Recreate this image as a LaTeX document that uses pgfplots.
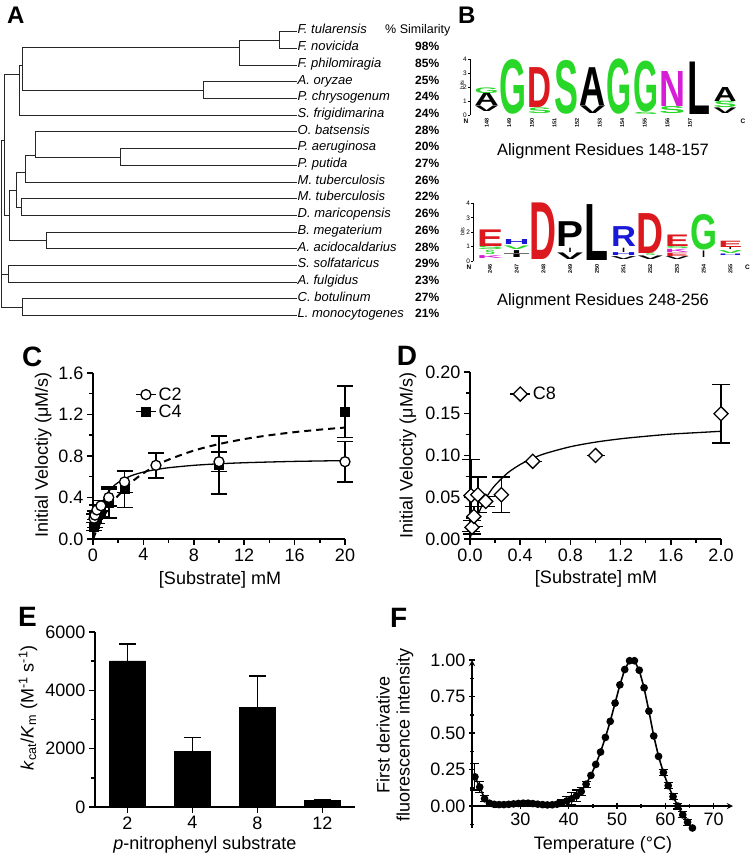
\documentclass[border=0pt]{standalone}
\usepackage{fontspec}
\setmainfont{Liberation Sans}
\usepackage{graphicx}
\usepackage{pgfplots}
\pgfplotsset{compat=1.18}

\definecolor{lgreen}{RGB}{40,215,40}
\definecolor{lred}{RGB}{220,25,30}
\definecolor{lmag}{RGB}{215,30,215}
\definecolor{lblue}{RGB}{25,25,215}

\newcommand{\fs}[2]{\fontsize{#1}{#2}\selectfont}
% logo letter: x, bottom (bits), height, colour, width, letter
\newcommand{\LL}[6]{\node[anchor=south,inner sep=0pt,text=#4] at (axis cs:#1,#2) {\resizebox{#5}{#3}{\bfseries #6}};}

\pgfplotsset{
  /pgf/number format/assume math mode=true,
  gp/.style={scale only axis, clip=false, anchor=south west,
    axis lines=left, axis line style={line width=1.7pt,-},
    tick style={line width=1.5pt,black}, tick align=outside,
    major tick length=6pt, minor tick length=4pt,
    minor x tick num=1, minor y tick num=1,
    tick label style={font=\fs{18}{20}},
    legend style={draw=none, fill=none, font=\fs{18}{20}, legend cell align=left, row sep=-1pt},
    legend image code/.code={\draw[mark repeat=2,mark phase=2,##1] plot coordinates {(0pt,0pt) (10pt,0pt) (20pt,0pt)};},
  },
  xl/.style 2 args={xlabel style={at={(axis description cs:#1,#2)}, anchor=center, font=\fs{18}{20}}},
  yl/.style 2 args={ylabel style={at={(axis description cs:#1,#2)}, rotate=0, anchor=center, font=\fs{18}{20}, align=center}},
  logo/.style={scale only axis, clip=false, anchor=south west,
    axis lines=left, x axis line style={draw=none}, y axis line style={line width=0.7pt,-},
    xtick style={draw=none}, ytick style={line width=0.6pt,black}, tick align=outside,
    major tick length=2pt, ymin=0, ymax=4, ytick={0,1,2,3,4},
    yticklabel style={font=\fs{6.5}{7}, inner sep=1pt},
    xticklabel style={font=\fs{5.5}{6}\bfseries, rotate=90, anchor=east, inner sep=1pt},
    ylabel={bits}, every axis y label/.style={at={(axis description cs:-0.03,0.54)}, rotate=90, anchor=center, font=\fs{5.5}{6}},
  },
  errs/.style 2 args={error bars/.cd, y dir=both, y explicit,
    error mark options={rotate=90, line width=#2, mark size=#1},
    error bar style={line width=#2}},
}

\begin{document}
\begin{tikzpicture}
\useasboundingbox (0,0) rectangle (750pt,861pt);

% ---------------- A: tree ----------------
\begin{axis}[at={(0pt,531pt)}, anchor=south west, scale only axis, width=460pt, height=330pt,
  xmin=0, xmax=460, ymin=0, ymax=330, y dir=reverse, hide axis, clip=false]
\addplot[black!85, line width=0.9pt, unbounded coords=jump] coordinates {
 (297,31.7) (279.3,31.7) (279.3,48.4) (297,48.4) (nan,nan)
 (279.3,40) (239.3,40) (239.3,65.1) (297,65.1) (nan,nan)
 (297,81.8) (203.3,81.8) (203.3,98.5) (297,98.5) (nan,nan)
 (239.3,47.7) (22.3,47.7) (22.3,90) (203.3,90) (nan,nan)
 (22.3,65) (19,65) (19,115.2) (297,115.2) (nan,nan)
 (297,148.6) (120.7,148.6) (120.7,165.3) (297,165.3) (nan,nan)
 (297,131.9) (35,131.9) (35,157) (120.7,157) (nan,nan)
 (35,155) (25.7,155) (25.7,182) (297,182) (nan,nan)
 (297,198.7) (21,198.7) (21,215.4) (297,215.4) (nan,nan)
 (25.7,172.7) (16.7,172.7) (16.7,207) (21,207) (nan,nan)
 (297,232.1) (46,232.1) (46,248.8) (297,248.8) (nan,nan)
 (16.7,190) (9.3,190) (9.3,240.5) (46,240.5) (nan,nan)
 (19,74) (4,74) (4,215) (9.3,215) (nan,nan)
 (297,265.5) (8,265.5) (8,282.2) (297,282.2) (nan,nan)
 (297,298.9) (22.7,298.9) (22.7,315.6) (297,315.6) (nan,nan)
 (4,140) (1,140) (1,307) (22.7,307) (nan,nan)
 (1,274) (8,274)
};
\begin{scope}[every node/.style={anchor=base west, inner sep=0pt, font=\fs{13}{15}\itshape}]
\node at (axis cs:297.5,34.0) {F. tularensis};
\node at (axis cs:297.5,50.7) {F. novicida};
\node at (axis cs:297.5,67.4) {F. philomiragia};
\node at (axis cs:297.5,84.1) {A. oryzae};
\node at (axis cs:297.5,100.8) {P. chrysogenum};
\node at (axis cs:297.5,117.5) {S. frigidimarina};
\node at (axis cs:297.5,134.2) {O. batsensis};
\node at (axis cs:297.5,150.9) {P. aeruginosa};
\node at (axis cs:297.5,167.6) {P. putida};
\node at (axis cs:297.5,184.3) {M. tuberculosis};
\node at (axis cs:297.5,201.0) {M. tuberculosis};
\node at (axis cs:297.5,217.7) {D. maricopensis};
\node at (axis cs:297.5,234.4) {B. megaterium};
\node at (axis cs:297.5,251.1) {A. acidocaldarius};
\node at (axis cs:297.5,267.8) {S. solfataricus};
\node at (axis cs:297.5,284.5) {A. fulgidus};
\node at (axis cs:297.5,301.2) {C. botulinum};
\node at (axis cs:297.5,317.9) {L. monocytogenes};
\end{scope}
\node[anchor=base west, inner sep=0pt, font=\fs{12.5}{14}] at (axis cs:385,34.0) {\% Similarity};
\begin{scope}[every node/.style={anchor=base west, inner sep=0pt, font=\fs{12}{14}\bfseries}]
\node at (axis cs:415,50.7) {98\%};
\node at (axis cs:415,67.4) {85\%};
\node at (axis cs:415,84.1) {25\%};
\node at (axis cs:415,100.8) {24\%};
\node at (axis cs:415,117.5) {24\%};
\node at (axis cs:415,134.2) {28\%};
\node at (axis cs:415,150.9) {20\%};
\node at (axis cs:415,167.6) {27\%};
\node at (axis cs:415,184.3) {26\%};
\node at (axis cs:415,201.0) {22\%};
\node at (axis cs:415,217.7) {26\%};
\node at (axis cs:415,234.4) {26\%};
\node at (axis cs:415,251.1) {28\%};
\node at (axis cs:415,267.8) {29\%};
\node at (axis cs:415,284.5) {23\%};
\node at (axis cs:415,301.2) {27\%};
\node at (axis cs:415,317.9) {21\%};
\end{scope}
\end{axis}

% ---------------- B: logos ----------------
\begin{axis}[logo, at={(470pt,746pt)}, width=271pt, height=56pt, xmin=147.37, xmax=157.6,
  xtick={148,148.853,149.706,150.559,151.412,152.265,153.118,153.971,154.824,155.677},
  xticklabels={148,149,150,151,152,153,154,155,156,157}]
\LL{148}{0.25}{5.6pt}{black}{24pt}{V}
\LL{148}{0.65}{12.6pt}{black}{24pt}{A}
\LL{148}{1.55}{5.6pt}{lgreen}{24pt}{G}
\LL{149}{0.05}{53.9pt}{lgreen}{27pt}{G}
\LL{150}{0.1}{5.6pt}{lgreen}{24pt}{S}
\LL{150}{0.5}{39.9pt}{lred}{24pt}{D}
\LL{151}{0.06}{53.1pt}{lgreen}{24pt}{S}
\LL{152}{0.1}{7.7pt}{black}{26pt}{V}
\LL{152}{0.65}{37.8pt}{black}{26pt}{A}
\LL{153}{0.05}{54.6pt}{lgreen}{25pt}{G}
\LL{154}{0.05}{2.1pt}{lgreen}{25pt}{S}
\LL{154}{0.2}{50.4pt}{lgreen}{25pt}{G}
\LL{155}{0.1}{7pt}{lgreen}{26pt}{S}
\LL{155}{0.6}{35pt}{lmag}{26pt}{N}
\LL{156}{0.05}{52.5pt}{black}{23pt}{L}
\LL{157}{0.1}{5.6pt}{black}{23pt}{V}
\LL{157}{0.5}{6.3pt}{lgreen}{23pt}{S}
\LL{157}{0.95}{14pt}{black}{23pt}{A}
\node[font=\fs{6.5}{7}\bfseries] at (axis cs:147.22,-0.43) {N};
\node[font=\fs{6.5}{7}\bfseries] at (axis cs:157.67,-0.43) {C};
\end{axis}

\begin{axis}[logo, at={(473.3pt,600pt)}, width=270.5pt, height=57.6pt, xmin=245.375, xmax=255.5,
  xtick={246,...,255}, every axis y label/.style={at={(axis description cs:-0.04,0.51)}, rotate=90, anchor=center, font=\fs{5.5}{6}}]
\LL{246}{0.15}{2.9pt}{lmag}{26pt}{K}
\LL{246}{0.4}{4.3pt}{lgreen}{10pt}{S}
\LL{246}{0.75}{3.6pt}{lgreen}{26pt}{S}
\LL{246}{1.0}{16.6pt}{lred}{26pt}{E}
\LL{247}{0.2}{3.6pt}{black}{26pt}{T}
\LL{247}{0.5}{2.9pt}{black}{10pt}{I}
\LL{247}{0.75}{3.6pt}{lgreen}{26pt}{V}
\LL{247}{1.1}{5pt}{lblue}{26pt}{H}
\LL{248}{0.07}{56.6pt}{lred}{27pt}{D}
\LL{249}{0.07}{6.6pt}{black}{26pt}{V}
\LL{249}{0.6}{4.3pt}{black}{3pt}{I}
\LL{249}{1.0}{24.8pt}{black}{27pt}{P}
\LL{250}{0.0}{55.9pt}{black}{24pt}{L}
\LL{251}{0.1}{2.9pt}{black}{26pt}{V}
\LL{251}{0.35}{2.9pt}{lblue}{26pt}{H}
\LL{251}{0.6}{4.3pt}{black}{3pt}{I}
\LL{251}{1.0}{19.9pt}{lblue}{25pt}{R}
\LL{252}{0.1}{3.6pt}{black}{26pt}{V}
\LL{252}{0.35}{2.6pt}{lgreen}{10pt}{S}
\LL{252}{0.53}{39.9pt}{lred}{27pt}{D}
\LL{253}{0.1}{2.9pt}{black}{24pt}{V}
\LL{253}{0.3}{3.3pt}{lred}{24pt}{E}
\LL{253}{0.58}{3.2pt}{lmag}{24pt}{K}
\LL{253}{0.83}{2.4pt}{lgreen}{24pt}{S}
\LL{253}{1.0}{11.5pt}{lred}{24pt}{E}
\LL{254}{0.2}{6.5pt}{black}{3pt}{I}
\LL{254}{0.76}{35pt}{lgreen}{27pt}{G}
\LL{255}{0.35}{1.5pt}{lblue}{24pt}{H}
\LL{255}{0.5}{2.9pt}{lgreen}{24pt}{V}
\LL{255}{0.75}{2.2pt}{black}{3pt}{I}
\LL{255}{0.9}{6.3pt}{lred}{24pt}{E}
\node[font=\fs{6.5}{7}\bfseries] at (axis cs:245.21,-0.44) {N};
\node[font=\fs{6.5}{7}\bfseries] at (axis cs:255.64,-0.44) {C};
\end{axis}

% ---------------- C ----------------
\begin{axis}[gp, at={(93pt,322pt)}, width=252pt, height=166pt,
  xmin=0, xmax=20, ymin=0, ymax=1.6,
  xtick={0,4,8,12,16,20}, ytick={0,0.4,0.8,1.2,1.6},
  yticklabel style={/pgf/number format/.cd, fixed, fixed zerofill, precision=1},
  xlabel={[Substrate] mM}, ylabel={Initial Veloctiy (μM/s)},
  xl={0.504}{-0.247}, yl={-0.198}{0.506},
  legend style={at={(axis cs:3.1,1.5)}, anchor=north west}]
\addlegendimage{black, line width=1.3pt, mark=*, mark size=5pt, mark options={fill=white}}
\addlegendentry{C2}
\addlegendimage{black, line width=1.3pt, mark=square*, mark size=4.5pt}
\addlegendentry{C4}
% fitted curves
\addplot[forget plot, black, line width=1.3pt, smooth] coordinates {
 (0,0) (0.1,0.079) (0.25,0.172) (0.5,0.282) (1,0.416) (1.5,0.494) (2,0.545) (3,0.608)
 (4,0.645) (5,0.669) (6,0.687) (8,0.710) (10,0.725) (12,0.735) (14,0.742) (16,0.748) (18,0.752) (20,0.756)};
\addplot[forget plot, black, line width=2pt, dash pattern=on 7pt off 5pt, smooth] coordinates {
 (0,0) (0.25,0.073) (0.5,0.138) (1,0.25) (1.5,0.342) (2,0.419) (3,0.542) (4,0.634) (5,0.707)
 (6,0.765) (8,0.852) (10,0.915) (12,0.963) (14,1.0) (16,1.030) (18,1.054) (20,1.074)};
% C4 data
\addplot[forget plot, black, only marks, mark=square*, mark size=4.5pt, errs={8pt}{1.5pt}] coordinates {
 (0.08,0.12) +- (0,0.04) (0.16,0.15) +- (0,0.04) (0.31,0.20) +- (0,0.05) (0.63,0.26) +- (0,0.05)
 (1.25,0.35) +- (0,0.15) (2.5,0.48) +- (0,0.175) (10,0.715) +- (0,0.28) (20,1.227) +- (0,0.25)};
% C2 data
\addplot[forget plot, black, only marks, mark=*, mark size=5pt, mark options={fill=white, line width=1.3pt}, errs={8pt}{1.5pt}] coordinates {
 (0.08,0.20) +- (0,0.04) (0.16,0.23) +- (0,0.04) (0.31,0.28) +- (0,0.05) (0.63,0.32) +- (0,0.05)
 (1.25,0.40) +- (0,0.08) (2.5,0.55) +- (0,0.10) (5,0.71) +- (0,0.12) (10,0.745) +- (0,0.095) (20,0.745) +- (0,0.195)};
\end{axis}

% ---------------- D ----------------
\begin{axis}[gp, at={(470pt,322pt)}, width=251pt, height=167pt,
  xmin=0, xmax=2, ymin=0, ymax=0.2,
  xtick={0,0.4,0.8,1.2,1.6,2.0}, ytick={0,0.05,0.10,0.15,0.20},
  xticklabel style={/pgf/number format/.cd, fixed, fixed zerofill, precision=1},
  yticklabel style={/pgf/number format/.cd, fixed, fixed zerofill, precision=2},
  xlabel={[Substrate] mM}, ylabel={Initial Veloctiy (μM/s)},
  xl={0.502}{-0.24}, yl={-0.247}{0.5},
  legend style={at={(axis cs:0.29,0.187)}, anchor=north west}]
\addlegendimage{black, line width=1.3pt, mark=square*, mark size=5pt, mark options={rotate=45, fill=white}}
\addlegendentry{C8}
\addplot[forget plot, black, line width=1.3pt, smooth] coordinates {
 (0,0) (0.02,0.0107) (0.05,0.0242) (0.1,0.0414) (0.15,0.0544) (0.2,0.0644) (0.3,0.0791)
 (0.4,0.0892) (0.5,0.0967) (0.6,0.1024) (0.8,0.1105) (1.0,0.116) (1.2,0.120) (1.4,0.123)
 (1.6,0.1256) (1.8,0.1273) (2.0,0.129)};
\addplot[forget plot, black, only marks, mark=square*, mark size=5pt, mark options={rotate=45, fill=white, line width=1.3pt}, errs={9pt}{1.5pt}] coordinates {
 (0.008,0.052) +- (0,0.043) (0.016,0.014) +- (0,0.008) (0.031,0.027) +- (0,0.012)
 (0.0625,0.053) +- (0,0.021) (0.125,0.045) +- (0,0.006) (0.25,0.053) +- (0,0.021)
 (0.5,0.093) +- (0,0) (1.0,0.100) +- (0,0) (2.0,0.150) +- (0,0.035)};
\end{axis}

% ---------------- E ----------------
\begin{axis}[gp, at={(95pt,54pt)}, width=260pt, height=175pt, ybar, bar width=36pt,
  xmin=-0.5, xmax=3.5, ymin=0, ymax=6000,
  xtick={0,1,2,3}, xticklabels={2,4,8,12}, minor x tick num=0,
  ytick={0,2000,4000,6000}, scaled y ticks=false,
  yticklabel style={/pgf/number format/1000 sep={}},
  xlabel={\textit{p}-nitrophenyl substrate},
  ylabel={\textit{k}\textsubscript{cat}/\textit{K}\textsubscript{m} (M\textsuperscript{-1} s\textsuperscript{-1})},
  xl={0.423}{-0.217}, yl={-0.258}{0.566}]
\addplot[fill=black, draw=black, error bars/.cd, y dir=plus, y explicit,
  error mark options={rotate=90, line width=1.8pt, mark size=8.5pt}, error bar style={line width=1.8pt}]
 coordinates {(0,5010) +- (0,580) (1,1920) +- (0,460) (2,3420) +- (0,1080) (3,220) +- (0,40)};
\end{axis}

% ---------------- F ----------------
\begin{axis}[gp, at={(472pt,33pt)}, width=261pt, height=168pt,
  xmin=20, xmax=74, ymin=-0.15, ymax=1.0,
  axis x line=middle, axis y line=left,
  hide obscured x ticks=false, hide obscured y ticks=false,
  xtick={30,40,50,60,70}, minor xtick={25,35,45,55,65},
  ytick={0,0.25,0.5,0.75,1}, minor ytick={-0.125,0.125,0.375,0.625,0.875},
  yticklabel style={/pgf/number format/.cd, fixed, fixed zerofill, precision=2},
  xlabel={Temperature (°C)}, ylabel={First derivative\\fluorescence intensity},
  xl={0.502}{-0.101}, yl={-0.295}{0.554}]
\addplot[black, line width=1.6pt, mark=*, mark size=3pt] coordinates {
 (20.6,0.20) (21.6,0.13) (22.6,0.05) (23.6,0.02) (24.6,0.012) (25.6,0.010) (26.6,0.010)
 (27.6,0.012) (28.6,0.015) (29.6,0.018) (30.6,0.020) (31.6,0.020) (32.6,0.017) (33.6,0.013)
 (34.6,0.010) (35.6,0.008) (36.6,0.009) (37.6,0.013) (38.6,0.022) (39.6,0.035) (40.6,0.050)
 (41.6,0.070) (42.6,0.100) (43.6,0.150) (44.6,0.210) (45.6,0.285) (46.6,0.370) (47.6,0.470)
 (48.6,0.580) (49.6,0.705) (50.6,0.830) (51.6,0.935) (52.6,0.995) (53.6,0.995) (54.6,0.930)
 (55.6,0.810) (56.6,0.650) (57.6,0.480) (58.6,0.340) (59.6,0.230) (60.6,0.140) (61.6,0.065)
 (62.6,0.000) (63.6,-0.060) (64.6,-0.110) (65.6,-0.150)};
\addplot[black, only marks, mark=*, mark size=3pt, errs={4.5pt}{1.1pt}] coordinates {
 (20.6,0.20) +- (0,0.09) (21.6,0.13) +- (0,0.04) (22.6,0.05) +- (0,0.02)
 (38.6,0.022) +- (0,0.02) (39.6,0.035) +- (0,0.03) (40.6,0.050) +- (0,0.04) (41.6,0.070) +- (0,0.04)
 (42.6,0.100) +- (0,0.03) (43.6,0.150) +- (0,0.02)
 (59.6,0.230) +- (0,0.02) (60.6,0.140) +- (0,0.02) (61.6,0.065) +- (0,0.02) (62.6,0.000) +- (0,0.02)
 (63.6,-0.060) +- (0,0.02) (64.6,-0.110) +- (0,0.02)};
\end{axis}

% ---------------- panel letters and titles ----------------
\node[anchor=base west, inner sep=0pt, font=\fs{24}{26}\bfseries] at (7pt,837pt) {A};
\node[anchor=base west, inner sep=0pt, font=\fs{24}{26}\bfseries] at (458pt,837.5pt) {B};
\node[anchor=base west, inner sep=0pt, font=\fs{28}{30}\bfseries] at (22pt,494.3pt) {C};
\node[anchor=base west, inner sep=0pt, font=\fs{28}{30}\bfseries] at (396.7pt,495pt) {D};
\node[anchor=base west, inner sep=0pt, font=\fs{28}{30}\bfseries] at (18pt,234.3pt) {E};
\node[anchor=base west, inner sep=0pt, font=\fs{28}{30}\bfseries] at (390pt,233pt) {F};
\node[font=\fs{16.5}{18}] at (603pt,709.3pt) {Alignment Residues 148-157};
\node[font=\fs{16.5}{18}] at (603pt,559.3pt) {Alignment Residues 248-256};
\end{tikzpicture}
\end{document}
